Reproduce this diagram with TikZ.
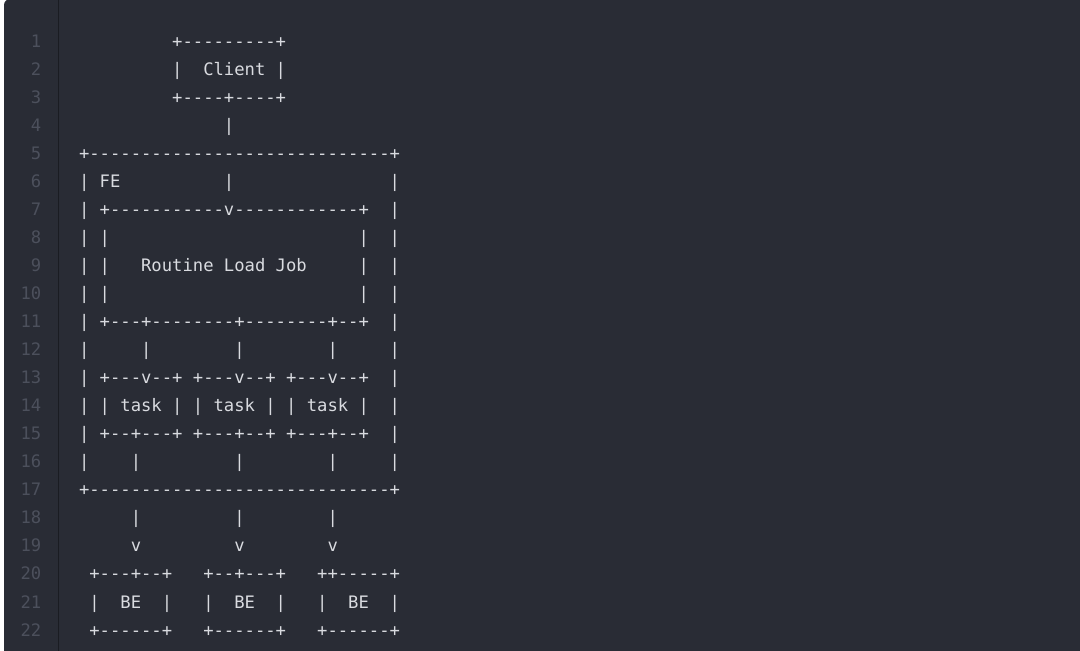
\documentclass[tikz,border=0pt]{standalone}
\usepackage{fontspec}
\setmonofont{DejaVu Sans Mono}
\usetikzlibrary{calc}

\definecolor{editorbg}{HTML}{292C35}
\definecolor{codetext}{HTML}{D9DBE0}
\definecolor{linenum}{HTML}{4C505C}
\definecolor{gutterline}{HTML}{1A1C22}
% one blank column of the mono font
\newcommand\gap[1]{\hspace*{#1\fontcharwd\font`\0}}

\begin{document}
\begin{tikzpicture}[x=1pt,y=-1pt,
	codeline/.style={anchor=base west,inner sep=0pt,text=codetext,font=\ttfamily\fontsize{17.2}{20}\selectfont},
	numline/.style={anchor=base east,inner sep=0pt,text=linenum,font=\ttfamily\fontsize{17.2}{20}\selectfont}]
	\useasboundingbox (0,0) rectangle (1080,651);
	\fill[white] (0,0) rectangle (1080,651);
	\fill[editorbg,rounded corners=6pt] (4,-1) rectangle (1100,670);
	\draw[gutterline,line width=1pt] (58,0) -- (58,651);
	
	% editor lines
	\foreach \i/\txt in {
		1/{\gap{9}+---------+},
		2/{\gap{9}|\gap{2}Client |},
		3/{\gap{9}+----+----+},
		4/{\gap{14}|},
		5/{+-----------------------------+},
		6/{| FE\gap{10}|\gap{15}|},
		7/{| +-----------v------------+\gap{2}|},
		8/{| |\gap{24}|\gap{2}|},
		9/{| |\gap{3}Routine Load Job\gap{5}|\gap{2}|},
		10/{| |\gap{24}|\gap{2}|},
		11/{| +---+--------+--------+--+\gap{2}|},
		12/{|\gap{5}|\gap{8}|\gap{8}|\gap{5}|},
		13/{| +---v--+ +---v--+ +---v--+\gap{2}|},
		14/{| | task | | task | | task |\gap{2}|},
		15/{| +--+---+ +---+--+ +---+--+\gap{2}|},
		16/{|\gap{4}|\gap{9}|\gap{8}|\gap{5}|},
		17/{+-----------------------------+},
		18/{\gap{5}|\gap{9}|\gap{8}|},
		19/{\gap{5}v\gap{9}v\gap{8}v},
		20/{\gap{1}+---+--+\gap{3}+--+---+\gap{3}++-----+},
		21/{\gap{1}|\gap{2}BE\gap{2}|\gap{3}|\gap{2}BE\gap{2}|\gap{3}|\gap{2}BE\gap{2}|},
		22/{\gap{1}+------+\gap{3}+------+\gap{3}+------+}}
	{
		\node[numline] (num\i) at (41.5,{47+28.05*(\i-1)}) {\i};
		\node[codeline] (line\i) at (78.8,{47+28.05*(\i-1)}) {\txt};
	}
\end{tikzpicture}
\end{document}
